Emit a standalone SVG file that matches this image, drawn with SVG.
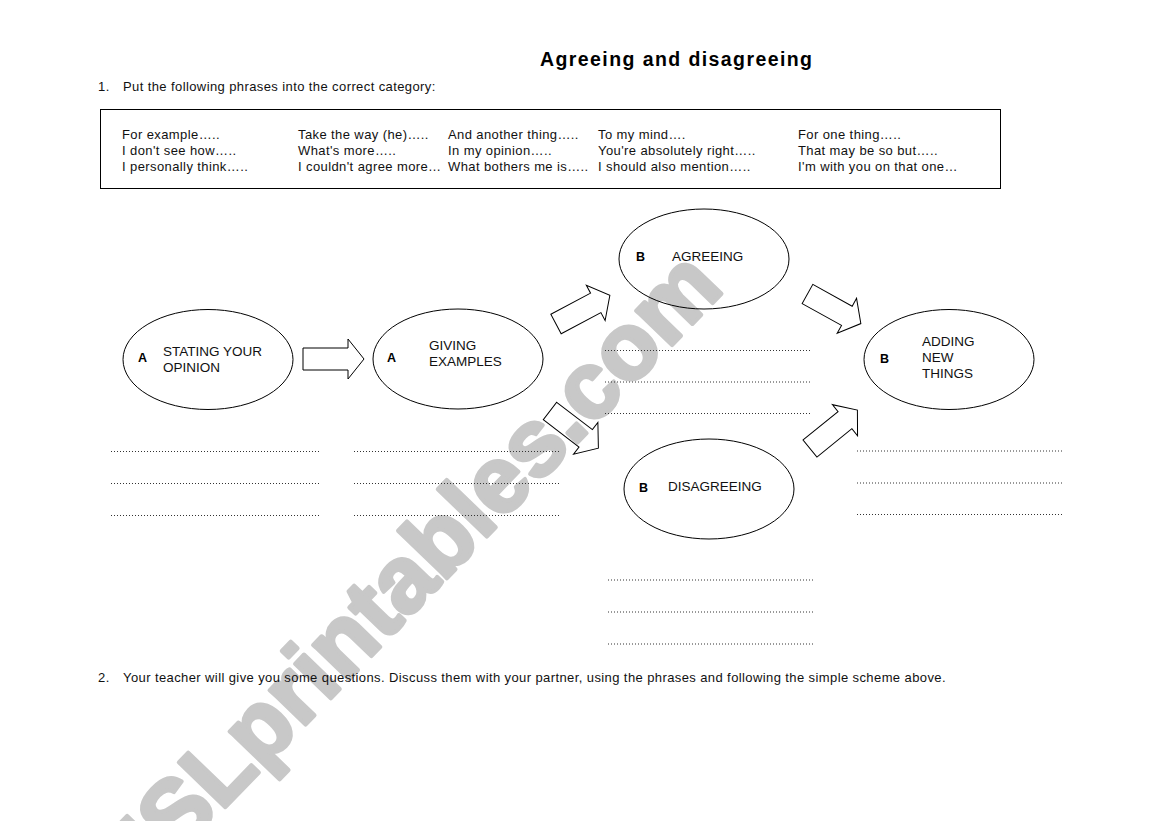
<svg xmlns="http://www.w3.org/2000/svg" xmlns:xlink="http://www.w3.org/1999/xlink" width="1169" height="821" viewBox="0 0 1169 821">
<style>
.wm{font-family:"Liberation Sans",Arial,sans-serif;font-weight:bold;font-size:94px;fill:#c8c8c8;stroke:#c8c8c8;stroke-width:4;stroke-linejoin:round}
.t{font-family:"Liberation Sans",Arial,sans-serif;font-size:13px;fill:#111;letter-spacing:0.4px}
.title{font-family:"Liberation Sans",Arial,sans-serif;font-size:19.5px;font-weight:bold;fill:#000}
.lbl{font-family:"Liberation Sans",Arial,sans-serif;font-size:13.5px;fill:#111}
.ab{font-family:"Liberation Sans",Arial,sans-serif;font-size:12.5px;font-weight:bold;fill:#000}
.ell{fill:none;stroke:#000;stroke-width:1}
.arr{fill:none;stroke:#000;stroke-width:1;stroke-linejoin:miter}
.dot{stroke:#333;stroke-width:1;stroke-dasharray:1 2}
.box{fill:none;stroke:#000;stroke-width:1}
</style>
<defs>
<path id="blk" d="M0,-11 H45 V-20 L61,0 L45,20 V11 H0 Z"/>
</defs>
<rect width="1169" height="821" fill="#fff"/>
<text class="wm" transform="translate(134,902) rotate(-46)">ESLprintables.com</text>

<text class="title" x="540" y="66" textLength="272">Agreeing and disagreeing</text>
<text class="t" x="98" y="91">1.</text>
<text class="t" x="123" y="91">Put the following phrases into the correct category:</text>

<g id="phrases">
<rect class="box" x="100.5" y="109.5" width="900" height="79"/>
<text class="t" x="122" y="139">For example…..</text>
<text class="t" x="122" y="155">I don't see how…..</text>
<text class="t" x="122" y="171">I personally think…..</text>
<text class="t" x="298" y="139">Take the way (he)…..</text>
<text class="t" x="298" y="155">What's more…..</text>
<text class="t" x="298" y="171">I couldn't agree more…</text>
<text class="t" x="448" y="139">And another thing…..</text>
<text class="t" x="448" y="155">In my opinion…..</text>
<text class="t" x="448" y="171">What bothers me is…..</text>
<text class="t" x="598" y="139">To my mind….</text>
<text class="t" x="598" y="155">You're absolutely right…..</text>
<text class="t" x="598" y="171">I should also mention…..</text>
<text class="t" x="798" y="139">For one thing…..</text>
<text class="t" x="798" y="155">That may be so but…..</text>
<text class="t" x="798" y="171">I'm with you on that one…</text>
</g>

<g id="node-stating">
<ellipse class="ell" cx="208" cy="359.5" rx="85" ry="50"/>
<text class="ab" x="138" y="362">A</text>
<text class="lbl" x="163" y="355.5">STATING YOUR</text>
<text class="lbl" x="163" y="371.5">OPINION</text>
</g>
<g id="node-giving">
<ellipse class="ell" cx="458" cy="359" rx="85" ry="50"/>
<text class="ab" x="387" y="362">A</text>
<text class="lbl" x="429" y="350">GIVING</text>
<text class="lbl" x="429" y="366">EXAMPLES</text>
</g>
<g id="node-agreeing">
<ellipse class="ell" cx="704" cy="259" rx="85" ry="50"/>
<text class="ab" x="636" y="261">B</text>
<text class="lbl" x="672" y="261">AGREEING</text>
</g>
<g id="node-disagreeing">
<ellipse class="ell" cx="709" cy="489" rx="85" ry="50"/>
<text class="ab" x="639" y="492">B</text>
<text class="lbl" x="668" y="491">DISAGREEING</text>
</g>
<g id="node-adding">
<ellipse class="ell" cx="949" cy="359.5" rx="85" ry="50"/>
<text class="ab" x="880" y="362.5">B</text>
<text class="lbl" x="922" y="346">ADDING</text>
<text class="lbl" x="922" y="362">NEW</text>
<text class="lbl" x="922" y="378">THINGS</text>
</g>

<g id="connectors">
<use xlink:href="#blk" class="arr" transform="translate(303,359)"/>
<use xlink:href="#blk" class="arr" transform="translate(556,324) rotate(-28)"/>
<use xlink:href="#blk" class="arr" transform="translate(550,411) rotate(37.5)"/>
<use xlink:href="#blk" class="arr" transform="translate(807.5,294) rotate(29)"/>
<use xlink:href="#blk" class="arr" transform="translate(810,448.5) rotate(-39)"/>
</g>

<g id="answer-lines">
<line class="dot" x1="111" y1="451.5" x2="319" y2="451.5"/>
<line class="dot" x1="111" y1="483.5" x2="319" y2="483.5"/>
<line class="dot" x1="111" y1="515.5" x2="319" y2="515.5"/>
<line class="dot" x1="354" y1="451.5" x2="560" y2="451.5"/>
<line class="dot" x1="354" y1="483.5" x2="560" y2="483.5"/>
<line class="dot" x1="354" y1="515.5" x2="560" y2="515.5"/>
<line class="dot" x1="605" y1="350.5" x2="811" y2="350.5"/>
<line class="dot" x1="605" y1="382" x2="811" y2="382"/>
<line class="dot" x1="605" y1="413.5" x2="811" y2="413.5"/>
<line class="dot" x1="857" y1="451" x2="1063" y2="451"/>
<line class="dot" x1="857" y1="483" x2="1063" y2="483"/>
<line class="dot" x1="857" y1="514.5" x2="1063" y2="514.5"/>
<line class="dot" x1="608" y1="580" x2="815" y2="580"/>
<line class="dot" x1="608" y1="612" x2="815" y2="612"/>
<line class="dot" x1="608" y1="644" x2="815" y2="644"/>
</g>

<text class="t" x="98" y="681.5">2.</text>
<text class="t" x="123" y="681.5">Your teacher will give you some questions. Discuss them with your partner, using the phrases and following the simple scheme above.</text>
</svg>
